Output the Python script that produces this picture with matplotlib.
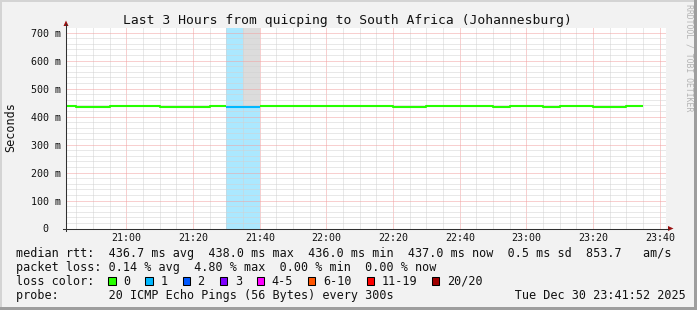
import matplotlib
matplotlib.use('Agg')
import matplotlib.pyplot as plt
import matplotlib.dates as mdates
from matplotlib.patches import Rectangle, Polygon
from matplotlib.lines import Line2D
from matplotlib.transforms import blended_transform_factory
from matplotlib.colors import to_rgb
import numpy as np
from datetime import datetime, timedelta

plt.rcParams['font.family'] = ['DejaVu Sans Mono']

# ---- data (5 minute steps, median rtt in ms, lost pings out of 20) ----
day = "2025-12-30"
step_start = ['20:40', '20:45', '20:50', '20:55', '21:00', '21:05', '21:10', '21:15',
              '21:20', '21:25', '21:30', '21:35', '21:40', '21:45', '21:50', '21:55',
              '22:00', '22:05', '22:10', '22:15', '22:20', '22:25', '22:30', '22:35',
              '22:40', '22:45', '22:50', '22:55', '23:00', '23:05', '23:10', '23:15',
              '23:20', '23:25', '23:30']
median_ms = [438.5, 435.5, 435.5, 438.5, 438.5, 438.5, 435.5, 435.5,
             435.5, 438.5, 435.5, 435.5, 438.5, 438.5, 438.5, 438.5,
             438.5, 438.5, 438.5, 438.5, 435.5, 435.5, 438.5, 438.5,
             438.5, 438.5, 435.5, 438.5, 438.5, 435.5, 438.5, 438.5,
             435.5, 435.5, 438.5]
loss_pings = [0, 0, 0, 0, 0, 0, 0, 0,
              0, 0, 1, 1, 0, 0, 0, 0,
              0, 0, 0, 0, 0, 0, 0, 0,
              0, 0, 0, 0, 0, 0, 0, 0,
              0, 0, 0]
# visible smoke (max ping) only in one step, beyond the top of the graph
smoke_step = ['21:35']
smoke_top_ms = [800]

loss_labels = ['0', '1', '2', '3', '4-5', '6-10', '11-19', '20/20']
loss_colors = ['#26ff00', '#00b8ff', '#0059ff', '#7e00ff', '#ff00ff', '#ff5500', '#ff0000', '#a10000']
loss_upper = [0, 1, 2, 3, 5, 10, 19, 20]

yticks = [0, 100, 200, 300, 400, 500, 600, 700]
ytick_labels = ['0', '100 m', '200 m', '300 m', '400 m', '500 m', '600 m', '700 m']

title = "Last 3 Hours from quicping to South Africa (Johannesburg)"
row_rtt = "median rtt:  436.7 ms avg  438.0 ms max  436.0 ms min  437.0 ms now  0.5 ms sd  853.7   am/s"
row_loss = "packet loss: 0.14 % avg  4.80 % max  0.00 % min  0.00 % now"
row_probe = "probe:       20 ICMP Echo Pings (56 Bytes) every 300s                 Tue Dec 30 23:41:52 2025"

start = datetime(2025, 12, 30, 20, 41, 52)
end = datetime(2025, 12, 30, 23, 41, 52)

# ---- figure ----
W, H = 697, 310
def fx(px):
    return px / W
def fy(py):
    return 1 - py / H

fig = plt.figure(figsize=(W / 100, H / 100), dpi=100, facecolor='#f2f2f2')
ax = fig.add_axes([fx(66), fy(228.5), 600 / W, 201 / H])
ax.set_facecolor('white')
for s in ax.spines.values():
    s.set_visible(False)

def t(hm):
    return datetime.strptime(day + " " + hm, "%Y-%m-%d %H:%M")

step = timedelta(minutes=5)
edges = [t(s) for s in step_start] + [t(step_start[-1]) + step]
med = np.array(median_ms + [np.nan], dtype=float)
loss = np.array(loss_pings + [0])

def color_idx(n):
    for i, u in enumerate(loss_upper):
        if n <= u:
            return i
    return len(loss_upper) - 1

cidx = np.array([color_idx(n) for n in loss])

# loss background
for i in range(len(step_start)):
    if loss_pings[i] > 0:
        r, g, b = to_rgb(loss_colors[cidx[i]])
        a = 0.33
        bg = (1 - a + a * r, 1 - a + a * g, 1 - a + a * b)
        ax.axvspan(edges[i], edges[i + 1], color=bg, lw=0, zorder=0.5)

# smoke
for s, top in zip(smoke_step, smoke_top_ms):
    i = step_start.index(s)
    ax.bar(edges[i], top - median_ms[i], bottom=median_ms[i], width=step,
           align='edge', color='#dcdcdc', lw=0, zorder=0.6)

# median line, coloured by loss
for ci in sorted(set(cidx[:-1])):
    y = np.where(cidx == ci, med, np.nan)
    y[-1] = np.nan
    ax.plot(edges, y, drawstyle='steps-post', color=loss_colors[ci], lw=1.5,
            solid_capstyle='butt', zorder=3)

ax.set_xlim(start, end)
ax.set_ylim(0, 718)

ax.xaxis.set_major_locator(mdates.MinuteLocator(byminute=[0, 20, 40]))
ax.xaxis.set_minor_locator(mdates.MinuteLocator(byminute=range(0, 60, 5)))
ax.xaxis.set_major_formatter(mdates.DateFormatter('%H:%M'))
ax.yaxis.set_major_locator(plt.FixedLocator(yticks))
ax.yaxis.set_minor_locator(plt.MultipleLocator(20))

ax.set_axisbelow(False)
ax.grid(which='minor', color='#d2d2d2', lw=0.72, ls=(0, (1, 1)))
ax.grid(which='major', color='#f2a0a0', lw=0.72, ls=(0, (1, 1)))
ax.tick_params(which='both', length=0)
ax.tick_params(axis='x', labelsize=7.2, pad=3.4, colors='#111111')
ax.tick_params(axis='y', labelleft=False)

adv_tick = 0.602 * 7.2 * 100 / 72
trans = blended_transform_factory(fig.transFigure, ax.transData)
for v, lab in zip(yticks, ytick_labels):
    xr = 60.5 if lab.endswith('m') else 60.5 - 2 * adv_tick
    ax.text(fx(xr), v, lab, transform=trans, ha='right', va='center_baseline',
            fontsize=7.2, color='#111111', clip_on=False)

# axes lines and arrows
axis_col = '#303030'
arrow_col = '#991111'
fig.add_artist(Line2D([fx(66), fx(66)], [fy(231), fy(24)], transform=fig.transFigure,
                      color=axis_col, lw=0.75))
fig.add_artist(Line2D([fx(63), fx(668)], [fy(228.5), fy(228.5)], transform=fig.transFigure,
                      color=axis_col, lw=0.75))
fig.add_artist(Polygon([[fx(63.5), fy(26)], [fx(68.5), fy(26)], [fx(66), fy(20.5)]],
                       closed=True, transform=fig.transFigure, color=arrow_col, lw=0))
fig.add_artist(Polygon([[fx(668), fy(226)], [fx(668), fy(231)], [fx(673.5), fy(228.5)]],
                       closed=True, transform=fig.transFigure, color=arrow_col, lw=0))

# texts
fig.text(fx(347), fy(24), title, ha='center', va='baseline', fontsize=9.4, color='#111111')
fig.text(fx(11), fy(127.5), 'Seconds', rotation=90, ha='center', va='center',
         fontsize=8.5, color='#111111')
fig.text(fx(688.5), fy(58), 'RRDTOOL / TOBI OETIKER', rotation=270, ha='center', va='center',
         fontsize=5.9, color='#b4b4b4')

adv = 0.602 * 8.5 * 100 / 72
fig.text(fx(16), fy(257), row_rtt, ha='left', va='baseline', fontsize=8.5, color='#111111')
fig.text(fx(16), fy(271), row_loss, ha='left', va='baseline', fontsize=8.5, color='#111111')
fig.text(fx(16), fy(285), 'loss color:', ha='left', va='baseline', fontsize=8.5, color='#111111')
fig.text(fx(16), fy(299.2), row_probe, ha='left', va='baseline', fontsize=8.5, color='#111111')

bx = 16 + 13 * adv
for lab, col in zip(loss_labels, loss_colors):
    fig.add_artist(Rectangle((fx(bx), fy(285)), 7.2 / W, 7.6 / H, transform=fig.transFigure,
                             facecolor=col, edgecolor='black', lw=0.75))
    tx = bx + 15
    fig.text(fx(tx), fy(285), lab, ha='left', va='baseline', fontsize=8.5, color='#111111')
    bx = tx + len(lab) * adv + 15

# frame shading
fig.add_artist(Rectangle((0, 0), fx(2), 1, transform=fig.transFigure, color='#d4d4d4', lw=0))
fig.add_artist(Rectangle((0, fy(2)), 1, 2 / H, transform=fig.transFigure, color='#d4d4d4', lw=0))
fig.add_artist(Rectangle((fx(694), 0), 3 / W, 1, transform=fig.transFigure, color='#9e9e9e', lw=0))
fig.add_artist(Rectangle((0, 0), 1, 3 / H, transform=fig.transFigure, color='#9e9e9e', lw=0))

fig.savefig('out.png', dpi=100, facecolor=fig.get_facecolor())
